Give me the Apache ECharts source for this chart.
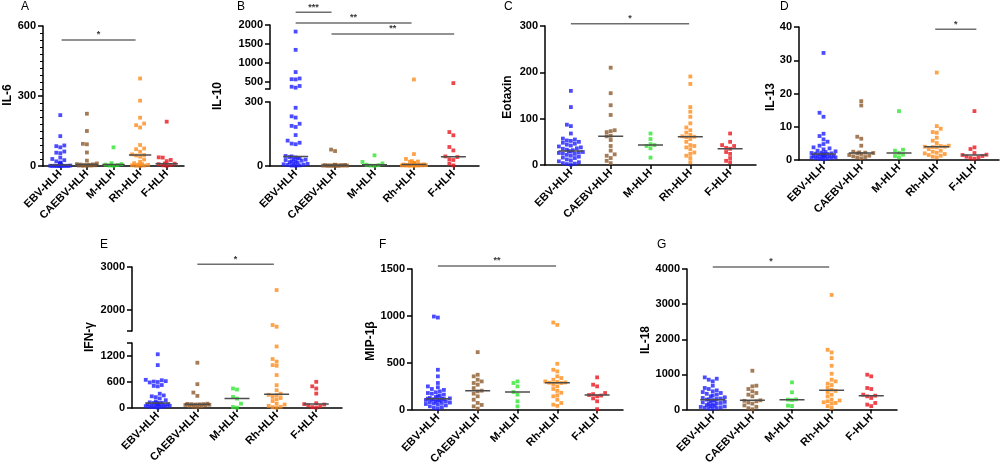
<!DOCTYPE html>
<html>
<head>
<meta charset="utf-8">
<script src="https://cdn.jsdelivr.net/npm/echarts@6/dist/echarts.min.js"></script>
<style>
html, body { margin: 0; padding: 0; background: #fff; }
#main { width: 1000px; height: 467px; }
</style>
</head>
<body>
<div id="main"></div>
<script>
// groups on every x axis
var groups = ['EBV-HLH', 'CAEBV-HLH', 'M-HLH', 'Rh-HLH', 'F-HLH'];

// A  IL-6  (EBV, CAEBV, M, Rh, F)
var il6Values = [
    [218, 128, 88, 85, 80, 62, 57, 55, 36, 30, 25, 20, 15, 12, 10, 9, 8, 7, 6, 5, 5, 4, 4, 3, 3, 3, 2, 2, 2, 2, 1, 1, 1, 1, 1, 0.5, 0.5, 0.5, 0, 0],
    [224, 150, 95, 93, 58, 23, 11, 8, 7, 6, 5, 4, 3, 2, 2, 1, 1],
    [80, 12, 8, 6, 4, 2, 1],
    [375, 280, 207, 182, 175, 165, 90, 75, 72, 61, 50, 47, 45, 40, 28, 18, 12, 8, 6, 5, 3, 2, 1, 0.5],
    [190, 37, 36, 26, 21, 11, 10, 8, 5, 3, 1]
];
var il6Medians = [4, 6, 6, 47, 10];

// B  IL-10
var il10Values = [
    [1825, 1340, 750, 580, 560, 555, 380, 360, 335, 273, 233, 227, 198, 188, 183, 145, 119, 109, 105, 102, 47, 45, 42, 40, 38, 35, 32, 30, 28, 25, 22, 20, 18, 15, 12, 10, 8, 6, 5, 3, 2, 1],
    [77, 70, 6, 5, 5, 4, 4, 3, 3, 3, 2, 2, 2, 1, 1, 1, 0.5],
    [50, 19, 12, 6, 4, 2, 1],
    [553, 56, 33, 23, 21, 20, 15, 14, 12, 10, 9, 8, 7, 6, 5, 5, 4, 4, 3, 3, 2, 2, 1, 1],
    [456, 159, 144, 89, 73, 45, 42, 31, 28, 11, 3]
];
var il10Medians = [45, 3, 6, 7, 43];

// C  Eotaxin
var eotaxinValues = [
    [160, 125, 87, 84, 68, 57, 55, 53, 52, 50, 48, 46, 44, 42, 40, 38, 36, 35, 33, 32, 30, 29, 28, 27, 26, 25, 24, 22, 20, 18, 16, 15, 12, 10, 8, 6, 4, 3, 2, 1],
    [210, 155, 129, 108, 75, 73, 71, 63, 62, 54, 41, 31, 23, 20, 15, 9, 4],
    [68, 56, 45, 43, 41, 36, 16],
    [191, 175, 125, 115, 104, 90, 81, 75, 70, 65, 62, 61, 60, 56, 50, 43, 41, 38, 34, 27, 24, 20, 15, 6],
    [68, 50, 43, 41, 37, 35, 28, 24, 15, 9, 6]
];
var eotaxinMedians = [30, 62, 43, 61, 35];

// D  IL-13
var il13Values = [
    [32.2, 14.2, 13, 7.9, 7.2, 6.2, 5.5, 4.8, 4.3, 3.8, 3.5, 3.2, 2.8, 2.6, 2.4, 2.2, 2.1, 2.0, 1.9, 1.8, 1.8, 1.7, 1.6, 1.5, 1.5, 1.4, 1.3, 1.2, 1.2, 1.1, 1.0, 1.0, 0.9, 0.8, 0.8, 0.7, 0.6, 0.5, 0.4, 0.3],
    [17.7, 16.4, 7.0, 6.4, 4.3, 2.5, 2.3, 2.2, 2.1, 2.0, 1.8, 1.5, 1.3, 1.1, 0.9, 0.7, 0.5],
    [14.7, 3.1, 2.8, 2.1, 1.6, 1.2, 0.8],
    [26.3, 10.2, 9.4, 8.4, 8.2, 6.7, 5.8, 5.1, 4.3, 4.2, 4.0, 4.0, 3.9, 3.8, 3.3, 2.8, 2.5, 2.2, 2.0, 1.8, 1.5, 1.3, 1.0, 0.8],
    [14.7, 3.8, 3.3, 2.1, 1.6, 1.5, 1.2, 1.0, 0.8, 0.6, 0.4]
];
var il13Medians = [1.8, 2.1, 2.1, 4.0, 1.5];

// E  IFN-γ
var ifngValues = [
    [1240, 990, 650, 640, 620, 610, 600, 590, 530, 510, 500, 330, 290, 270, 250, 220, 180, 150, 130, 120, 116, 112, 108, 100, 95, 90, 85, 80, 75, 70, 65, 60, 55, 50, 45, 40, 30, 25, 20, 10],
    [1045, 550, 356, 279, 100, 95, 90, 88, 85, 80, 75, 70, 60, 50, 40, 30, 20],
    [450, 426, 255, 217, 100, 23, 8],
    [2460, 1640, 1600, 1420, 1130, 1070, 990, 975, 760, 527, 410, 330, 305, 295, 255, 230, 200, 160, 100, 80, 50, 30, 20, 5],
    [604, 500, 450, 333, 110, 90, 80, 62, 40, 20, 10]
];
var ifngMedians = [116, 85, 217, 318, 90];

// F  MIP-1β
var mip1bValues = [
    [993, 982, 425, 355, 284, 248, 238, 220, 210, 195, 185, 177, 170, 160, 150, 142, 135, 124, 120, 117, 115, 113, 110, 106, 103, 99, 95, 89, 85, 80, 75, 71, 65, 60, 53, 45, 35, 25, 18, 10],
    [613, 372, 355, 319, 301, 284, 266, 230, 202, 195, 170, 142, 106, 71, 50, 35, 11],
    [301, 284, 248, 188, 160, 89, 35],
    [929, 904, 489, 425, 408, 355, 337, 319, 301, 295, 290, 287, 284, 266, 248, 220, 200, 180, 152, 142, 106, 71, 53, 40],
    [344, 266, 248, 177, 165, 156, 150, 142, 120, 89, 5]
];
var mip1bMedians = [117, 202, 188, 287, 156];

// G  IL-18
var il18Values = [
    [917, 879, 851, 804, 681, 615, 586, 548, 520, 500, 473, 450, 425, 400, 378, 350, 331, 315, 302, 290, 284, 270, 255, 236, 220, 205, 189, 175, 160, 142, 130, 113, 100, 90, 76, 65, 55, 45, 35, 25],
    [1106, 681, 662, 586, 520, 473, 425, 378, 265, 250, 236, 200, 170, 120, 80, 40, 10],
    [775, 492, 290, 284, 270, 113, 100],
    [3262, 1702, 1626, 1466, 1248, 1021, 851, 804, 738, 700, 620, 567, 530, 501, 425, 378, 284, 260, 236, 208, 190, 170, 100, 47],
    [993, 946, 615, 586, 425, 397, 378, 331, 189, 142, 100]
];
var il18Medians = [284, 265, 284, 548, 397];

var FONT = '"Liberation Sans", Arial, sans-serif';
var colors = ['#1f1fff', '#8c5a2c', '#2fe62f', '#ff8c1c', '#e8161e'];
var X_MIN = -0.65, X_MAX = 4.65;

// layout of each panel, segs listed top to bottom (two segs = broken axis)
var panels = [
    {letter: 'A', name: 'IL-6', values: il6Values, medians: il6Medians, left: 43, width: 141, minor: true,
        segs: [{top: 26, height: 140, min: 0, max: 600, interval: 300}],
        sig: [{x: [0.05, 2.83], y: 540, text: '*'}], letterAt: [21, 1], nameAt: [8, 95]},
    {letter: 'B', name: 'IL-10', values: il10Values, medians: il10Medians, left: 270, width: 209,
        segs: [{top: 25, height: 64, min: 300, max: 2000, ticks: [300, 500, 1000, 1500, 2000], labels: [500, 1000, 1500, 2000]},
               {top: 102, height: 64, min: 0, max: 300, ticks: [0, 300], labels: [0, 300]}],
        sig: [{x: [0, 0.91], y: 2337, text: '***'}, {x: [0, 2.94], y: 2053, text: '**'}, {x: [0.91, 4.02], y: 1761, text: '**'}],
        letterAt: [237, 1], nameAt: [218, 96]},
    {letter: 'C', name: 'Eotaxin', values: eotaxinValues, medians: eotaxinMedians, left: 545, width: 211,
        segs: [{top: 26, height: 139, min: 0, max: 300, interval: 100}],
        sig: [{x: [0, 2.97], y: 305, text: '*'}], letterAt: [504, 1], nameAt: [508, 97]},
    {letter: 'D', name: 'IL-13', values: il13Values, medians: il13Medians, left: 799, width: 200,
        segs: [{top: 27, height: 133, min: 0, max: 40, interval: 10}],
        sig: [{x: [2.96, 4.05], y: 39.3, text: '*'}], letterAt: [780, 1], nameAt: [771, 97]},
    {letter: 'E', name: 'IFN-γ', values: ifngValues, medians: ifngMedians, left: 132, width: 210,
        segs: [{top: 267, height: 64, min: 1500, max: 3000, ticks: [1500, 2000, 3000], labels: [2000, 3000]},
               {top: 343, height: 65, min: 0, max: 1500, ticks: [0, 600, 1200, 1500], labels: [0, 600, 1200]}],
        sig: [{x: [1, 2.93], y: 3063, text: '*'}], letterAt: [100, 239], nameAt: [90, 337]},
    {letter: 'F', name: 'MIP-1β', values: mip1bValues, medians: mip1bMedians, left: 412, width: 211,
        segs: [{top: 269, height: 141, min: 0, max: 1500, interval: 500}],
        sig: [{x: [0, 2.97], y: 1532, text: '**'}], letterAt: [379, 239], nameAt: [371, 341]},
    {letter: 'G', name: 'IL-18', values: il18Values, medians: il18Medians, left: 687, width: 210,
        segs: [{top: 269, height: 141, min: 0, max: 4000, interval: 1000}],
        sig: [{x: [0, 2.94], y: 4057, text: '*'}], letterAt: [657, 239], nameAt: [646, 340]}
];

// which segment a value falls in
function segIndex(p, v) {
    for (var k = 0; k < p.segs.length; k++) {
        if (v >= p.segs[k].min) return k;
    }
    return p.segs.length - 1;
}

// beeswarm: spread dots sideways so they do not sit on top of each other
function swarm(vals, toPx, spacing) {
    var size = 4, half = Math.min(13, 0.42 * spacing);
    var cands = [0];
    for (var d = 2; d <= half; d += 2) cands.push(-d, d);
    var order = vals.map(function(v, i) { return i; })
        .sort(function(a, b) { return vals[a] - vals[b]; });
    var placed = [], off = [];
    order.forEach(function(i) {
        var y = toPx(vals[i]);
        var near = placed.filter(function(q) { return Math.abs(q.y - y) < size; });
        var best = 0, bestGap = -1;
        for (var c = 0; c < cands.length; c++) {
            var gap = Infinity;
            near.forEach(function(q) { gap = Math.min(gap, Math.abs(q.x - cands[c])); });
            if (gap >= size) { best = cands[c]; break; }
            if (gap > bestGap) { bestGap = gap; best = cands[c]; }
        }
        placed.push({x: best, y: y});
        off[i] = best / spacing;
    });
    return off;
}

var axisColor = {color: '#000', width: 1.5};
var labelFont = {fontFamily: FONT, fontSize: 11, fontWeight: 'bold', color: '#000'};
var grids = [], xAxes = [], yAxes = [], series = [], graphics = [];

panels.forEach(function(p) {
    var spacing = p.width / (X_MAX - X_MIN);
    var base = grids.length;

    p.segs.forEach(function(s, k) {
        var isBottom = k === p.segs.length - 1;
        grids.push({left: p.left, top: s.top, width: p.width, height: s.height});
        xAxes.push({
            gridIndex: base + k, type: 'value', min: X_MIN, max: X_MAX, show: isBottom,
            axisLine: {show: true, onZero: false, lineStyle: axisColor},
            axisTick: {show: true, length: 4, customValues: [0, 1, 2, 3, 4], lineStyle: axisColor},
            axisLabel: Object.assign({
                customValues: [0, 1, 2, 3, 4], rotate: 45, margin: 6,
                formatter: function(v) { return groups[Math.round(v)]; }
            }, labelFont),
            splitLine: {show: false}
        });
        var y = {
            gridIndex: base + k, type: 'value', min: s.min, max: s.max,
            axisLine: {show: true, onZero: false, lineStyle: axisColor},
            axisTick: {show: true, length: 5, lineStyle: axisColor},
            axisLabel: Object.assign({margin: 7, formatter: function(v) { return String(v); }}, labelFont),
            splitLine: {show: false},
            minorTick: p.minor ? {show: true, splitNumber: 10, length: 3, lineStyle: {color: '#000', width: 1}} : {show: false}
        };
        if (s.interval) {
            y.interval = s.interval;
        } else {
            y.axisTick.customValues = s.ticks;
            y.axisLabel.customValues = s.labels;
        }
        yAxes.push(y);
    });

    var toPx = function(v) {
        var s = p.segs[segIndex(p, v)];
        return s.top + s.height - (v - s.min) / (s.max - s.min) * s.height;
    };

    // dots
    p.values.forEach(function(vals, g) {
        var off = swarm(vals, toPx, spacing);
        p.segs.forEach(function(s, k) {
            var data = [];
            vals.forEach(function(v, i) {
                if (segIndex(p, v) === k) data.push([g + off[i], v]);
            });
            series.push({
                type: 'scatter', xAxisIndex: base + k, yAxisIndex: base + k,
                symbol: 'rect', symbolSize: 3.8, data: data,
                itemStyle: {color: colors[g]}, z: 2
            });
        });
    });

    // median lines
    var mh = Math.min(12.5, 0.42 * spacing) / spacing;
    p.medians.forEach(function(m, g) {
        var k = segIndex(p, m);
        series.push({
            type: 'line', xAxisIndex: base + k, yAxisIndex: base + k,
            data: [[g - mh, m], [g + mh, m]], symbol: 'none',
            lineStyle: {color: '#4d4d4d', width: 1.5}, z: 3
        });
    });

    // significance bars
    p.sig.forEach(function(b) {
        series.push({
            type: 'line', xAxisIndex: base, yAxisIndex: base, clip: false,
            data: [[b.x[0], b.y], [b.x[1], b.y]], symbol: 'none',
            lineStyle: {color: '#6e6e6e', width: 1.5}, z: 3
        });
        series.push({
            type: 'scatter', xAxisIndex: base, yAxisIndex: base, clip: false,
            data: [[(b.x[0] + b.x[1]) / 2, b.y]], symbolSize: 1,
            itemStyle: {color: 'rgba(0,0,0,0)'},
            label: {show: true, position: 'top', distance: 0, formatter: b.text,
                fontFamily: FONT, fontSize: 9, fontWeight: 'bold', color: '#000'}
        });
    });

    graphics.push({
        type: 'text', x: p.letterAt[0], y: p.letterAt[1],
        style: {text: p.letter, fontFamily: FONT, fontSize: 12, fill: '#000', align: 'left', verticalAlign: 'top'}
    });
    graphics.push({
        type: 'text', x: p.nameAt[0], y: p.nameAt[1], rotation: Math.PI / 2,
        style: {text: p.name, fontFamily: FONT, fontSize: 12, fontWeight: 'bold', fill: '#000', align: 'center', verticalAlign: 'middle'}
    });
});

var myChart = echarts.init(document.getElementById('main'));
myChart.setOption({
    animation: false,
    backgroundColor: '#fff',
    grid: grids,
    xAxis: xAxes,
    yAxis: yAxes,
    series: series,
    graphic: graphics
});
</script>
</body>
</html>
